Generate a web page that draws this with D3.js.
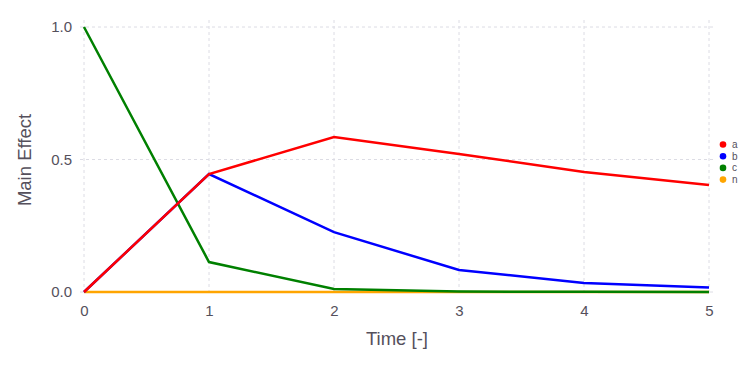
<!DOCTYPE html>
<html>
<head>
<meta charset="utf-8">
<script src="https://cdn.jsdelivr.net/npm/d3@7"></script>
<style>
  body { margin: 0; background: #fff; }
  text { font-family: "Liberation Sans", Arial, sans-serif; }
</style>
</head>
<body>
<svg id="chart" width="756" height="378"></svg>
<script>
// data
var times = [0, 1, 2, 3, 4, 5];
var seriesNames = ['a', 'b', 'c', 'n'];
var seriesColors = ['#ff0000', '#0000ff', '#008000', '#ffa500'];
var aValues = [0, 0.445, 0.585, 0.521, 0.453, 0.404];
var bValues = [0, 0.445, 0.226, 0.083, 0.034, 0.017];
var cValues = [1.0, 0.113, 0.011, 0.002, 0.0005, 0.0001];
var nValues = [0, 0, 0, 0, 0, 0];
var yTicks = [0, 0.5, 1.0];

var svg = d3.select('#chart');

// plot area
var xScale = d3.scaleLinear().domain([0, 5]).range([84, 709]);
var yScale = d3.scaleLinear().domain([0, 1]).range([292, 27]);

// grid lines
svg.append('g')
    .selectAll('line')
    .data(times)
    .enter()
    .append('line')
    .attr('x1', function(d) { return xScale(d); })
    .attr('x2', function(d) { return xScale(d); })
    .attr('y1', 20)
    .attr('y2', 296)
    .attr('stroke', '#dcdce4')
    .attr('stroke-dasharray', '3,3');

svg.append('g')
    .selectAll('line')
    .data(yTicks)
    .enter()
    .append('line')
    .attr('x1', 80)
    .attr('x2', 714)
    .attr('y1', function(d) { return yScale(d); })
    .attr('y2', function(d) { return yScale(d); })
    .attr('stroke', '#dcdce4')
    .attr('stroke-dasharray', '3,3');

// axes (labels only, no domain lines)
var xAxis = svg.append('g')
    .attr('transform', 'translate(0,' + 302 + ')')
    .call(d3.axisBottom(xScale).tickValues(times).tickSize(0).tickFormat(d3.format('d')));
xAxis.select('.domain').remove();
xAxis.selectAll('text')
    .attr('dy', '0.71em')
    .style('font-size', '15px')
    .style('fill', '#55505c');

var yAxis = svg.append('g')
    .attr('transform', 'translate(' + 75 + ',0)')
    .call(d3.axisLeft(yScale).tickValues(yTicks).tickSize(0).tickFormat(d3.format('.1f')));
yAxis.select('.domain').remove();
yAxis.selectAll('text')
    .style('font-size', '15px')
    .style('fill', '#55505c');

// axis titles
svg.append('text')
    .text('Time [-]')
    .attr('x', 397)
    .attr('y', 345)
    .attr('text-anchor', 'middle')
    .style('font-size', '18.5px')
    .style('fill', '#55505c');

svg.append('text')
    .text('Main Effect')
    .attr('transform', 'translate(31,160)rotate(-90)')
    .attr('text-anchor', 'middle')
    .style('font-size', '18.5px')
    .style('fill', '#55505c');

// lines
var allValues = [aValues, bValues, cValues, nValues];
var lineData = seriesNames.map(function(name, i) {
    return { name: name, color: seriesColors[i], values: allValues[i] };
});
// draw order: n, c, b, a so red sits on top
var drawOrder = [3, 2, 1, 0];

var line = d3.line()
    .x(function(d, i) { return xScale(times[i]); })
    .y(function(d) { return yScale(d); });

svg.append('g')
    .selectAll('path')
    .data(drawOrder.map(function(i) { return lineData[i]; }))
    .enter()
    .append('path')
    .attr('d', function(d) { return line(d.values); })
    .attr('fill', 'none')
    .attr('stroke', function(d) { return d.color; })
    .attr('stroke-width', 2.5);

// legend
var legend = svg.append('g')
    .selectAll('g')
    .data(lineData)
    .enter()
    .append('g')
    .attr('transform', function(d, i) { return 'translate(723,' + (144.5 + i * 11.7) + ')'; });

legend.append('circle')
    .attr('r', 3.3)
    .attr('fill', function(d) { return d.color; });

legend.append('text')
    .text(function(d) { return d.name; })
    .attr('x', 9)
    .attr('dy', '0.35em')
    .style('font-size', '10px')
    .style('fill', '#55505c');
</script>
</body>
</html>
